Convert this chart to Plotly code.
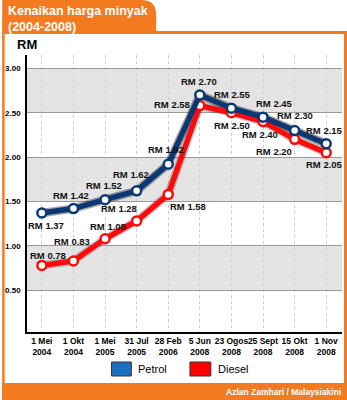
import plotly.graph_objects as go

categories = ["1 Mei<br>2004", "1 Okt<br>2004", "1 Mei<br>2005", "31 Jul<br>2005", "28 Feb<br>2006",
              "5 Jun<br>2008", "23 Ogos<br>2008", "25 Sept<br>2008", "15 Okt<br>2008", "1 Nov<br>2008"]
petrol = [1.37, 1.42, 1.52, 1.62, 1.92, 2.70, 2.55, 2.45, 2.30, 2.15]
diesel = [0.78, 0.83, 1.08, 1.28, 1.58, 2.58, 2.50, 2.40, 2.20, 2.05]
ytick_vals = [0.5, 1.0, 1.5, 2.0, 2.5, 3.0]
ytick_text = ["0.50", "1.00", "1.50", "2.00", "2.50", "3.00"]

# label offsets in pixels (style only): (dx, dy) with dy positive = down
petrol_off = [(4, 12), (-2, -13), (-1, -14), (-6, -16), (-2, -15),
              (-1, -13), (1, -14), (11, -14), (0, -15), (-2, -13)]
diesel_off = [(6, -10), (-1, -19), (3, -12), (-18, -13), (20, 12),
              (-28, -1), (1, 13), (-3, 13), (-21, 12), (-2, 12)]

W, H = 347, 400
L, R, T, B = 25, 5, 55, 68
PW, PH = W - L - R, H - T - B


def px(x):
    return (x - L) / PW


def py(y):
    return (H - B - y) / PH


ORANGE = "#f47a20"
NAVY = "#0c3775"
RED = "#ff0a0a"
FONT = "Liberation Sans, Arial, sans-serif"

fig = go.Figure()

# shadows
fig.add_trace(go.Scatter(x=categories, y=petrol, mode="lines", line=dict(color="rgba(0,0,0,0.35)", width=8.5),
                         hoverinfo="skip", showlegend=False))
fig.add_trace(go.Scatter(x=categories, y=diesel, mode="lines", line=dict(color="rgba(0,0,0,0.2)", width=8.5),
                         hoverinfo="skip", showlegend=False))
fig.add_trace(go.Scatter(x=categories, y=diesel, mode="lines+markers", name="Diesel",
                         line=dict(color=RED, width=5.5), cliponaxis=False,
                         marker=dict(size=9, color="white", line=dict(color=RED, width=2.5)),
                         showlegend=False))
fig.add_trace(go.Scatter(x=categories, y=petrol, mode="lines+markers", name="Petrol",
                         line=dict(color=NAVY, width=5.5), cliponaxis=False,
                         marker=dict(size=9, color="white", line=dict(color=NAVY, width=2.5)),
                         showlegend=False))

shapes = []
# shaded bands
for lo, hi in [(0.5, 1.0), (1.5, 2.0), (2.5, 3.0)]:
    shapes.append(dict(type="rect", xref="paper", yref="y", x0=0, x1=1, y0=lo, y1=hi,
                       fillcolor="#e4e4e4", line=dict(width=0), layer="below"))
# frame
shapes += [
    dict(type="path", xref="paper", yref="paper",
         path=f"M {px(0)},{py(33)} L {px(0)},{py(0)} L {px(140)},{py(0)} "
              f"Q {px(155)},{py(0)} {px(155)},{py(15)} L {px(155)},{py(33)} Z",
         fillcolor=ORANGE, line=dict(width=0)),
    dict(type="rect", xref="paper", yref="paper", x0=px(0), x1=px(347), y0=py(34), y1=py(31),
         fillcolor=ORANGE, line=dict(width=0)),
    dict(type="rect", xref="paper", yref="paper", x0=px(0), x1=px(2.5), y0=py(400), y1=py(31),
         fillcolor=ORANGE, line=dict(width=0)),
    dict(type="rect", xref="paper", yref="paper", x0=px(344), x1=px(347), y0=py(400), y1=py(31),
         fillcolor=ORANGE, line=dict(width=0)),
    dict(type="rect", xref="paper", yref="paper", x0=px(0), x1=px(347), y0=py(400), y1=py(383),
         fillcolor=ORANGE, line=dict(width=0)),
    # legend boxes
    dict(type="rect", xref="paper", yref="paper", x0=px(110), x1=px(130), y0=py(376), y1=py(362),
         fillcolor="#1a6fc0", line=dict(color="#333", width=1)),
    dict(type="rect", xref="paper", yref="paper", x0=px(189), x1=px(210), y0=py(376), y1=py(362),
         fillcolor="#ff0000", line=dict(color="#333", width=1)),
]

annotations = [
    dict(text="<b>Kenaikan harga minyak<br>(2004-2008)</b>", xref="paper", yref="paper",
         x=px(4), y=py(2), xanchor="left", yanchor="top", align="left", showarrow=False,
         font=dict(family=FONT, size=12.5, color="white")),
    dict(text="<b>RM</b>", xref="paper", yref="paper", x=px(13), y=py(44), xanchor="left", yanchor="middle",
         showarrow=False, font=dict(family=FONT, size=13, color="black")),
    dict(text="Petrol", xref="paper", yref="paper", x=px(135), y=py(369), xanchor="left", yanchor="middle",
         showarrow=False, font=dict(family=FONT, size=11, color="black")),
    dict(text="Diesel", xref="paper", yref="paper", x=px(215), y=py(369), xanchor="left", yanchor="middle",
         showarrow=False, font=dict(family=FONT, size=11, color="black")),
    dict(text="<b>Azlan Zamhari / Malaysiakini</b>", xref="paper", yref="paper", x=px(343), y=py(391.5),
         xanchor="right", yanchor="middle", showarrow=False, font=dict(family=FONT, size=8.5, color="white")),
]

for series, offs in [(petrol, petrol_off), (diesel, diesel_off)]:
    for cat, v, (dx, dy) in zip(categories, series, offs):
        annotations.append(dict(text=f"<b>RM {v:.2f}</b>", x=cat, y=v, xref="x", yref="y",
                                xshift=dx, yshift=-dy, showarrow=False, xanchor="center", yanchor="middle",
                                font=dict(family=FONT, size=9.5, color="#111")))

fig.update_layout(
    width=W, height=H, margin=dict(l=L, r=R, t=T, b=B),
    paper_bgcolor="white", plot_bgcolor="white",
    shapes=shapes, annotations=annotations, showlegend=False,
    font=dict(family=FONT),
    xaxis=dict(type="category", range=[-0.47, 9.5], showgrid=True, gridcolor="#cfcfcf", griddash="dot",
               gridwidth=1, showline=True, linecolor="black", linewidth=1.5, ticks="",
               tickfont=dict(family=FONT, size=8.5, color="black"), tickangle=0,
               tickvals=categories, ticktext=[f"<b>{c}</b>" for c in categories], fixedrange=True),
    yaxis=dict(range=[0.03, 3.15], tickvals=ytick_vals, ticktext=[f"<b>{t}</b>" for t in ytick_text],
               showgrid=True, gridcolor="#9a9a9a", gridwidth=1, zeroline=False,
               showline=True, linecolor="black", linewidth=1.5, ticks="", ticklabelstandoff=3,
               tickfont=dict(family=FONT, size=8, color="black"), fixedrange=True),
)

fig.write_html("out.html")
